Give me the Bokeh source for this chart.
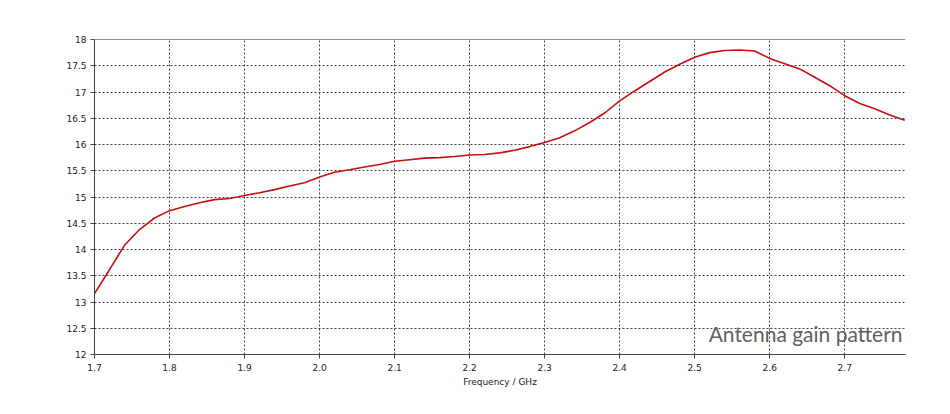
from bokeh.plotting import figure
from bokeh.models import Range1d, FixedTicker, NumeralTickFormatter, Span, Label
from bokeh.embed import file_html
from bokeh.resources import INLINE

freq = [1.70, 1.715, 1.74, 1.76, 1.78, 1.80, 1.82, 1.84, 1.86, 1.88, 1.90, 1.92, 1.94, 1.96, 1.98,
        2.00, 2.02, 2.04, 2.06, 2.08, 2.10, 2.12, 2.14, 2.16, 2.18, 2.20, 2.22, 2.24, 2.26, 2.28,
        2.30, 2.32, 2.34, 2.36, 2.38, 2.40, 2.42, 2.44, 2.46, 2.48, 2.50, 2.52, 2.54, 2.56, 2.58,
        2.60, 2.62, 2.64, 2.66, 2.68, 2.70, 2.72, 2.74, 2.76, 2.78]
gain = [13.16, 13.50, 14.08, 14.38, 14.60, 14.74, 14.82, 14.89, 14.95, 14.97, 15.03, 15.08, 15.14, 15.21, 15.27,
        15.38, 15.47, 15.52, 15.57, 15.62, 15.68, 15.71, 15.74, 15.75, 15.77, 15.80, 15.81, 15.84, 15.89, 15.96,
        16.04, 16.13, 16.26, 16.42, 16.60, 16.83, 17.02, 17.20, 17.38, 17.53, 17.66, 17.75, 17.79, 17.80, 17.78,
        17.64, 17.54, 17.44, 17.28, 17.12, 16.93, 16.78, 16.68, 16.56, 16.46]
x_ticks = [1.7, 1.8, 1.9, 2.0, 2.1, 2.2, 2.3, 2.4, 2.5, 2.6, 2.7]
y_ticks = [12, 12.5, 13, 13.5, 14, 14.5, 15, 15.5, 16, 16.5, 17, 17.5, 18]
title_text = "Antenna gain pattern"
x_label = "Frequency / GHz"

p = figure(width=930, height=394, output_backend="svg", toolbar_location=None,
           x_range=Range1d(1.7, 2.781), y_range=Range1d(12, 18),
           min_border_left=94, min_border_top=39, min_border_right=25, min_border_bottom=40)
p.outline_line_color = None
p.background_fill_color = "white"
p.border_fill_color = "white"

p.line(freq, gain, line_color="#c41010", line_width=1.6)

for ax, ticks, fmt in ((p.xaxis[0], x_ticks, "0.0"), (p.yaxis[0], y_ticks, "0.[0]")):
    ax.ticker = FixedTicker(ticks=ticks)
    ax.formatter = NumeralTickFormatter(format=fmt)
    ax.axis_line_color = "#444444"
    ax.major_tick_line_color = "#444444"
    ax.major_tick_out = 4
    ax.major_tick_in = 0
    ax.minor_tick_line_color = None
    ax.major_label_text_font = "DejaVu Sans"
    ax.major_label_text_font_size = "9px"
    ax.major_label_text_color = "#222222"
p.xaxis.axis_label = x_label
p.xaxis.axis_label_text_font = "DejaVu Sans"
p.xaxis.axis_label_text_font_size = "9px"
p.xaxis.axis_label_text_font_style = "normal"
p.xaxis.axis_label_text_color = "#222222"
p.xaxis.axis_label_standoff = 3
p.xaxis.major_label_standoff = 5
p.yaxis.major_label_standoff = 4

for g in (p.xgrid[0], p.ygrid[0]):
    g.grid_line_color = "#222222"
    g.grid_line_dash = "2 2"
    g.grid_line_alpha = 0.85
    g.grid_line_width = 1
p.xgrid.ticker = FixedTicker(ticks=x_ticks)
p.ygrid.ticker = FixedTicker(ticks=y_ticks)

p.add_layout(Span(location=18, dimension="width", line_color="#222222", line_width=1.2))

p.add_layout(Label(x=2.777, y=12.16, text=title_text, text_align="right", text_baseline="bottom",
                   text_font="Lato", text_font_size="21px", text_color="#606060"))

open("out.html", "w").write(file_html(p, INLINE))
